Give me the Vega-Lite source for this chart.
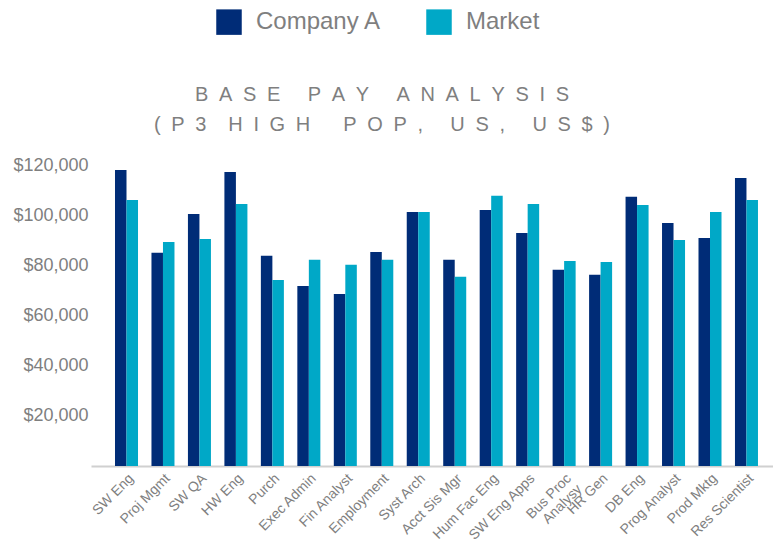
{
  "$schema": "https://vega.github.io/schema/vega-lite/v6.json",
  "width": 682,
  "height": 301,
  "autosize": {"type": "none"},
  "padding": {"left": 91, "top": 165, "right": 0, "bottom": 73},
  "background": "white",
  "config": {"view": {"stroke": null}, "font": "Liberation Sans"},
  "title": {
    "text": [
      "B\u2004\u2009A\u2004\u2009S\u2004\u2009E\u2004\u2009\u00a0\u00a0\u00a0P\u2004\u2009A\u2004\u2009Y\u2004\u2009\u00a0\u00a0\u00a0A\u2004\u2009N\u2004\u2009A\u2004\u2009L\u2004\u2009Y\u2004\u2009S\u2004\u2009I\u2004\u2009S",
      "(\u2004\u2009P\u2004\u20093\u2004\u2009\u00a0\u00a0H\u2004\u2009I\u2004\u2009G\u2004\u2009H\u2004\u2009\u00a0\u00a0\u00a0\u00a0P\u2004\u2009O\u2004\u2009P\u2004\u2009,\u2004\u2009\u00a0\u00a0\u00a0U\u2004\u2009S\u2004\u2009,\u2004\u2009\u00a0\u00a0\u00a0U\u2004\u2009S\u2004\u2009$\u2004\u2009)"
    ],
    "fontSize": 20,
    "fontWeight": "normal",
    "color": "#7F7F7F",
    "font": "Liberation Sans",
    "anchor": "middle",
    "frame": "group",
    "dx": -50,
    "dy": 126,
    "lineHeight": 30,
    "offset": 0
  },
  "data": {
    "values": [
      {"job": "SW Eng", "series": "Company A", "pay": 118000},
      {"job": "SW Eng", "series": "Market", "pay": 106000},
      {"job": "Proj Mgmt", "series": "Company A", "pay": 85000},
      {"job": "Proj Mgmt", "series": "Market", "pay": 89300},
      {"job": "SW QA", "series": "Company A", "pay": 100500},
      {"job": "SW QA", "series": "Market", "pay": 90500},
      {"job": "HW Eng", "series": "Company A", "pay": 117200},
      {"job": "HW Eng", "series": "Market", "pay": 104500},
      {"job": "Purch", "series": "Company A", "pay": 83800},
      {"job": "Purch", "series": "Market", "pay": 74200},
      {"job": "Exec Admin", "series": "Company A", "pay": 71800},
      {"job": "Exec Admin", "series": "Market", "pay": 82200},
      {"job": "Fin Analyst", "series": "Company A", "pay": 68600},
      {"job": "Fin Analyst", "series": "Market", "pay": 80200},
      {"job": "Employment", "series": "Company A", "pay": 85300},
      {"job": "Employment", "series": "Market", "pay": 82200},
      {"job": "Syst Arch", "series": "Company A", "pay": 101300},
      {"job": "Syst Arch", "series": "Market", "pay": 101300},
      {"job": "Acct Sis Mgr", "series": "Company A", "pay": 82200},
      {"job": "Acct Sis Mgr", "series": "Market", "pay": 75400},
      {"job": "Hum Fac Eng", "series": "Company A", "pay": 102100},
      {"job": "Hum Fac Eng", "series": "Market", "pay": 107700},
      {"job": "SW Eng Apps", "series": "Company A", "pay": 92900},
      {"job": "SW Eng Apps", "series": "Market", "pay": 104500},
      {"job": "Bus Proc Analysy", "series": "Company A", "pay": 78200},
      {"job": "Bus Proc Analysy", "series": "Market", "pay": 81700},
      {"job": "HR Gen", "series": "Company A", "pay": 76200},
      {"job": "HR Gen", "series": "Market", "pay": 81300},
      {"job": "DB Eng", "series": "Company A", "pay": 107300},
      {"job": "DB Eng", "series": "Market", "pay": 104100},
      {"job": "Prog Analyst", "series": "Company A", "pay": 96900},
      {"job": "Prog Analyst", "series": "Market", "pay": 90100},
      {"job": "Prod Mktg", "series": "Company A", "pay": 90900},
      {"job": "Prod Mktg", "series": "Market", "pay": 101300},
      {"job": "Res Scientist", "series": "Company A", "pay": 114800},
      {"job": "Res Scientist", "series": "Market", "pay": 106000}
    ]
  },
  "mark": {"type": "bar"},
  "encoding": {
    "x": {
      "field": "job",
      "type": "nominal",
      "sort": null,
      "scale": {"paddingInner": 0.369, "paddingOuter": 0.535, "align": 0.615},
      "axis": {
        "title": null,
        "labelAngle": -45,
        "labelAlign": "right",
        "labelBaseline": "middle",
        "labelFontSize": 14,
        "labelColor": "#7F7F7F",
        "ticks": false,
        "domainColor": "#D0D0D0",
        "domainWidth": 2,
        "labelPadding": 10,
        "labelOffset": 5,
        "labelLineHeight": 15,
        "labelExpr": "datum.label == 'Bus Proc Analysy' ? ['Bus Proc', 'Analysy'] : datum.label"
      }
    },
    "xOffset": {"field": "series", "type": "nominal", "sort": ["Company A", "Market"]},
    "y": {
      "field": "pay",
      "type": "quantitative",
      "scale": {"domain": [0, 120000], "nice": false},
      "axis": {
        "title": null,
        "values": [20000, 40000, 60000, 80000, 100000, 120000],
        "format": "$,.0f",
        "labelFontSize": 18,
        "labelColor": "#7F7F7F",
        "domain": false,
        "ticks": false,
        "grid": false,
        "labelPadding": 3
      }
    },
    "color": {
      "field": "series",
      "type": "nominal",
      "scale": {"domain": ["Company A", "Market"], "range": ["#002C77", "#00A8C7"]},
      "legend": {
        "title": null,
        "orient": "none",
        "legendX": 125,
        "legendY": -156,
        "direction": "horizontal",
        "symbolType": "square",
        "symbolSize": 650,
        "symbolStrokeWidth": 0,
        "labelFontSize": 24,
        "labelColor": "#7F7F7F",
        "labelOffset": 14,
        "columnPadding": 44,
        "padding": 0,
        "labelLimit": 300
      }
    }
  }
}
